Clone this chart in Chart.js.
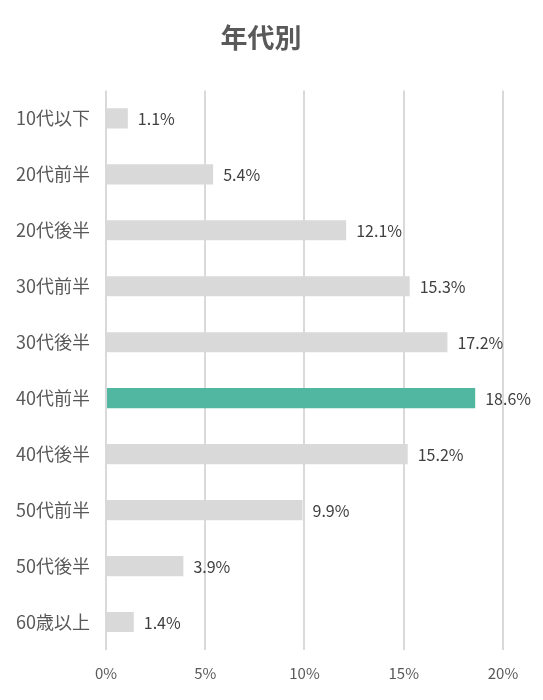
<!DOCTYPE html>
<html>
<head>
<meta charset="utf-8">
<script src="https://cdn.jsdelivr.net/npm/chart.js@4/dist/chart.umd.min.js"></script>
<style>
  html, body { margin: 0; padding: 0; background: #fff; }
  #wrap { width: 543px; height: 700px; }
</style>
</head>
<body>
<div id="wrap"><canvas id="chart1"></canvas></div>
<script>
// 年代別の割合 (%)
var categories = ['10代以下', '20代前半', '20代後半', '30代前半', '30代後半', '40代前半', '40代後半', '50代前半', '50代後半', '60歳以上']
var shares     = [1.1, 5.4, 12.1, 15.3, 17.2, 18.6, 15.2, 9.9, 3.9, 1.4]
var xTicks     = [0, 5, 10, 15, 20]
var highlight  = '40代前半'

var fontFamily = "'Noto Sans CJK JP', 'Noto Sans', sans-serif"

// draws the value labels to the right of each bar
var valueLabels = {
  id: 'valueLabels',
  afterDatasetsDraw: function(chart) {
    var ctx = chart.ctx
    var meta = chart.getDatasetMeta(0)
    ctx.save()
    ctx.font = '16px ' + fontFamily
    ctx.fillStyle = '#404040'
    ctx.textAlign = 'left'
    ctx.textBaseline = 'middle'
    meta.data.forEach(function(bar, i) {
      ctx.fillText(shares[i].toFixed(1) + '%', bar.x + 10, bar.y + 1)
    })
    ctx.restore()
  }
}

var barColors = categories.map(function(c) {
  return c === highlight ? '#52b7a0' : '#d9d9d9'
})

new Chart(document.getElementById('chart1').getContext('2d'), {
  type: 'bar',
  data: {
    labels: categories,
    datasets: [{
      data: shares,
      backgroundColor: barColors,
      borderWidth: 0,
      barPercentage: 0.36,
      categoryPercentage: 1
    }]
  },
  options: {
    indexAxis: 'y',
    responsive: true,
    maintainAspectRatio: false,
    animation: false,
    layout: { padding: { left: 8, right: 29, top: 0, bottom: 4 } },
    plugins: {
      legend: { display: false },
      tooltip: { enabled: false },
      title: {
        display: true,
        text: '年代別',
        color: '#595959',
        font: { family: fontFamily, size: 27, weight: 'bold' },
        padding: { top: 22, bottom: 36 }
      }
    },
    scales: {
      x: {
        min: 0,
        max: 20,
        afterBuildTicks: function(axis) {
          axis.ticks = xTicks.map(function(v) { return { value: v } })
        },
        // keep the plot a bit narrower than the title box
        afterFit: function(axis) {
          axis.paddingRight = 40
        },
        grid: { color: '#d9d9d9', lineWidth: 2, drawTicks: false },
        border: { display: false },
        ticks: {
          color: '#595959',
          font: { family: fontFamily, size: 15 },
          padding: 14,
          callback: function(v) { return v + '%' }
        }
      },
      y: {
        grid: { display: false },
        border: { display: false },
        ticks: {
          color: '#595959',
          font: { family: fontFamily, size: 18 },
          padding: 8
        }
      }
    }
  },
  plugins: [valueLabels]
})
</script>
</body>
</html>
